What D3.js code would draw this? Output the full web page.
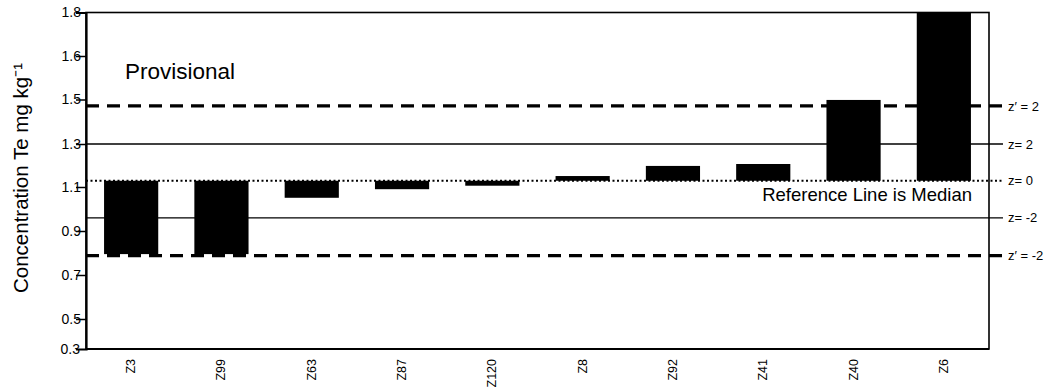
<!DOCTYPE html>
<html>
<head>
<meta charset="utf-8">
<script src="https://cdn.jsdelivr.net/npm/d3@7"></script>
<style>
  body { margin: 0; background: #fff; }
  text { font-family: "Liberation Sans", Arial, sans-serif; fill: #000; }
</style>
</head>
<body>
<div id="chart"></div>
<script>
// Lab codes and their reported Te concentrations
const labs = ["Z3", "Z99", "Z63", "Z87", "Z120", "Z8", "Z92", "Z41", "Z40", "Z6"];
const values = [0.795, 0.795, 1.051, 1.09, 1.106, 1.151, 1.198, 1.207, 1.498, 1.8];

// Axis tick labels (the axis spacing is uneven, as in the source chart)
const tickLabels = [0.3, 0.5, 0.7, 0.9, 1.1, 1.3, 1.5, 1.6, 1.8];

// Reference lines
const median = 1.129;
const refLines = [
    { value: 1.471, label: "z\u2032 = 2", style: "dash" },
    { value: 1.3, label: "z= 2", style: "solid" },
    { value: median, label: "z= 0", style: "dot" },
    { value: 0.96, label: "z= -2", style: "solid" },
    { value: 0.788, label: "z\u2032 = -2", style: "dash" }
];

const width = 1045, height = 392;
const margin = { top: 12.5, right: 56, bottom: 43, left: 86 };
const lineEnd = 1003;

const svg = d3.select("#chart").append("svg")
    .attr("width", width)
    .attr("height", height);

const x = d3.scaleBand()
    .domain(labs)
    .range([margin.left, width - margin.right])
    .paddingInner(0.4)
    .paddingOuter(0.2);

// piecewise scale so ticks land where the source drew them
const y = d3.scaleLinear()
    .domain(tickLabels)
    .range([349, 319, 275, 231, 187, 144, 99.5, 56, 12.5]);

// bars hang from the median line
svg.append("g")
    .selectAll("rect")
    .data(labs)
    .join("rect")
    .attr("x", d => x(d))
    .attr("width", x.bandwidth())
    .attr("y", (d, i) => Math.min(y(values[i]), y(median)))
    .attr("height", (d, i) => Math.abs(y(values[i]) - y(median)))
    .attr("fill", "#000");

// reference lines
const lineG = svg.append("g");
refLines.forEach(r => {
    const ln = lineG.append("line")
        .attr("x1", margin.left)
        .attr("x2", lineEnd)
        .attr("y1", y(r.value))
        .attr("y2", y(r.value))
        .attr("stroke", "#000");
    if (r.style === "dash") {
        ln.attr("stroke-width", 3.2).attr("stroke-dasharray", "13,8");
    } else if (r.style === "dot") {
        ln.attr("stroke-width", 2.2).attr("stroke-dasharray", "2,2.5");
    } else {
        ln.attr("stroke-width", 1.3);
    }
    lineG.append("text")
        .attr("x", 1008)
        .attr("y", y(r.value))
        .attr("dy", "0.35em")
        .style("font-size", "13px")
        .text(r.label);
});

// plot frame
svg.append("rect")
    .attr("x", margin.left)
    .attr("y", margin.top)
    .attr("width", width - margin.right - margin.left)
    .attr("height", 349 - margin.top)
    .attr("fill", "none")
    .attr("stroke", "#000")
    .attr("stroke-width", 1.6);

// y axis
const yAxis = svg.append("g")
    .attr("transform", `translate(${margin.left},0)`)
    .call(d3.axisLeft(y).tickValues(tickLabels).tickSize(10).tickPadding(-5)
        .tickFormat(d3.format(".1f")));
yAxis.select(".domain").attr("stroke-width", 2.2);
yAxis.selectAll(".tick line").attr("stroke-width", 1.5);
yAxis.selectAll(".tick text")
    .style("font-size", "14px")
    .style("font-family", "'Liberation Sans', Arial, sans-serif")
    .attr("fill", "#111");
yAxis.selectAll(".tick").filter(d => d === 0.3).select("line").remove();
yAxis.selectAll(".tick").filter(d => d === 0.3).select("text").attr("x", -6);

// x labels, rotated
svg.append("g")
    .selectAll("text")
    .data(labs)
    .join("text")
    .attr("transform", d => `translate(${x(d) + x.bandwidth() / 2 + 4},359) rotate(-90)`)
    .attr("text-anchor", "end")
    .style("font-size", "12.5px")
    .text(d => d);

// bottom axis line a bit heavier
svg.append("line")
    .attr("x1", margin.left).attr("x2", width - margin.right)
    .attr("y1", 349).attr("y2", 349)
    .attr("stroke", "#000").attr("stroke-width", 2.2);

// y title
svg.append("text")
    .attr("transform", "translate(28,178) rotate(-90)")
    .attr("text-anchor", "middle")
    .style("font-size", "20.5px")
    .text("Concentration Te mg kg\u207B\u00B9");

svg.append("text")
    .attr("x", 125)
    .attr("y", 79)
    .style("font-size", "22.5px")
    .text("Provisional");

svg.append("text")
    .attr("x", 972)
    .attr("y", 201)
    .attr("text-anchor", "end")
    .style("font-size", "18.5px")
    .text("Reference Line is Median");
</script>
</body>
</html>
